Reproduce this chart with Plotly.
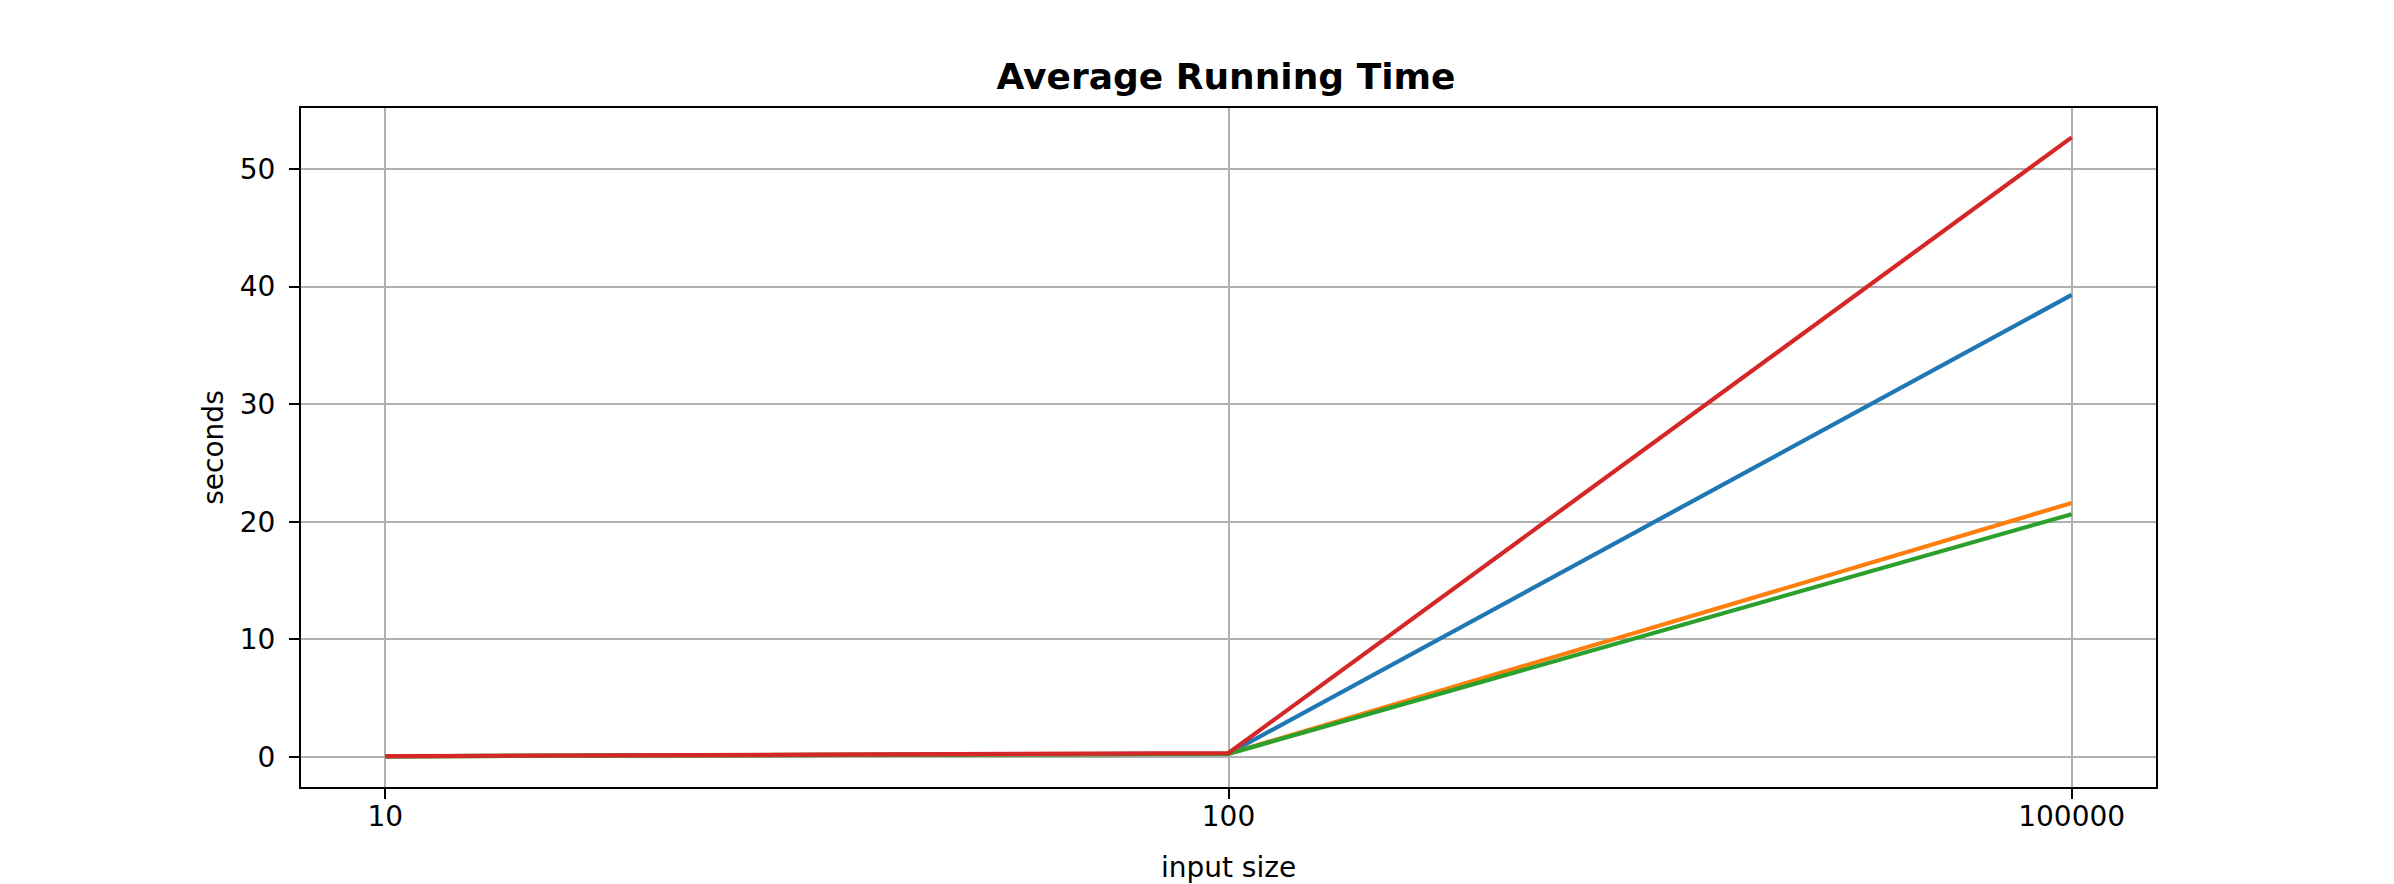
import plotly.graph_objects as go

sizes = ["10", "100", "100000"]
series_names = ["s1", "s2", "s3", "s4"]
blue_vals = [0.05, 0.28, 39.3]
orange_vals = [0.05, 0.27, 21.6]
green_vals = [0.05, 0.26, 20.65]
red_vals = [0.06, 0.33, 52.7]
colors = ["#1f77b4", "#ff7f0e", "#2ca02c", "#d62728"]

fig = go.Figure()
for name, vals, c in zip(series_names, [blue_vals, orange_vals, green_vals, red_vals], colors):
    fig.add_trace(go.Scatter(x=sizes, y=vals, mode="lines", name=name,
                             line=dict(color=c, width=4.2)))

font = "DejaVu Sans, Arial, sans-serif"
fig.update_layout(
    width=2394, height=884,
    paper_bgcolor="white", plot_bgcolor="white",
    showlegend=False,
    margin=dict(l=293, r=246, t=100, b=105),
    title=dict(text="<b>Average Running Time</b>", x=1218 / 2394, xanchor="center",
               yref="container", y=1 - 68 / 884, yanchor="middle",
               font=dict(family=font, size=36, color="black")),
    font=dict(family=font, size=28, color="black"),
)
fig.update_xaxes(
    type="category", range=[-0.1, 2.1], automargin=False,
    showline=True, linecolor="black", linewidth=2.2, mirror=True,
    showgrid=True, gridcolor="#b0b0b0", gridwidth=2.2,
    ticks="outside", ticklen=10, tickwidth=2.2, tickcolor="black",
    ticklabelstandoff=-7,
    tickfont=dict(family=font, size=28, color="black"),
    title=dict(text="input size", font=dict(family=font, size=28, color="black"), standoff=26),
    zeroline=False,
)
fig.update_yaxes(
    range=[-2.56, 55.2], dtick=10, tick0=0, automargin=False,
    showline=True, linecolor="black", linewidth=2.2, mirror=True,
    showgrid=True, gridcolor="#b0b0b0", gridwidth=2.2,
    ticks="outside", ticklen=10, tickwidth=2.2, tickcolor="black",
    ticklabelstandoff=8,
    tickfont=dict(family=font, size=28, color="black"),
    title=dict(text="seconds", font=dict(family=font, size=28, color="black"), standoff=8),
    zeroline=False,
)
fig.write_html("out.html")
